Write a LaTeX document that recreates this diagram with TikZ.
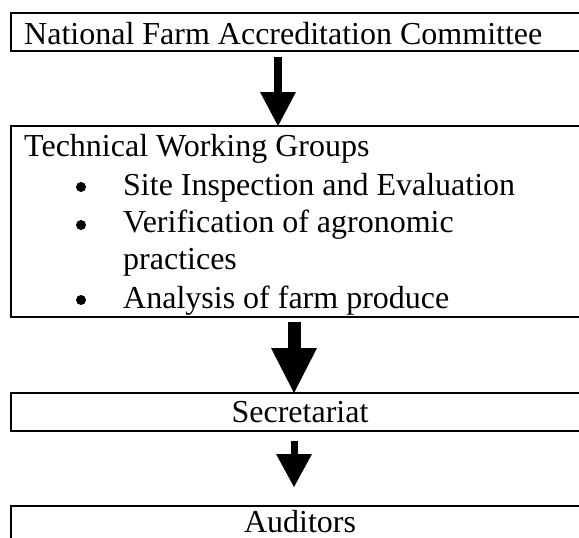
\documentclass[tikz,border=0pt]{standalone}
\usepackage{fontspec}
\setmainfont{Liberation Serif}
\usetikzlibrary{arrows.meta}

\tikzset{
  box/.style={draw, line width=2pt, minimum width=578pt, inner sep=0pt, outer sep=0pt, anchor=north west},
  txt/.style={inner sep=0pt, anchor=base west, font=\fontsize{32}{38}\selectfont},
  ctxt/.style={inner sep=0pt, anchor=base, font=\fontsize{32}{38}\selectfont},
  dot/.style={circle, fill, inner sep=0pt, minimum size=10pt},
  blockarrow/.style n args={3}{line width=#1pt, -{Triangle[length=#2pt, width=#3pt, line width=0pt]}}
}

\begin{document}
\begin{tikzpicture}[x=1pt, y=-1pt]

\useasboundingbox (0,0) rectangle (579,538);
\clip (0,0) rectangle (579,538);

%================ BOXES ==================
\node[box, minimum height=38pt]  (nfac) at (11,13)  {};
\node[box, minimum height=191pt] (twg)  at (11,126) {};
\node[box, minimum height=38pt]  (sec)  at (11,393) {};
\node[box, minimum height=38pt]  (aud)  at (11,506) {};

%================ TEXTS ==================
\node[txt] (nfac-txt) at (24,44) {National Farm Accreditation Committee};

\node[txt] (twg-txt) at (24,156) {Technical Working Groups};
% bulleted list
\node[dot] (b1) at (81,187) {};
\node[txt] (i1) at (123,195) {Site Inspection and Evaluation};
\node[dot] (b2) at (81,225) {};
\node[txt] (i2) at (123,232) {Verification of agronomic};
\node[txt] (i2b) at (123,269) {practices};
\node[dot] (b3) at (81,300) {};
\node[txt] (i3) at (123,308) {Analysis of farm produce};

\node[ctxt] (sec-txt) at (300,422) {Secretariat};
\node[ctxt] (aud-txt) at (300,532) {Auditors};

%================ ARROWS ==================
\draw[blockarrow={8}{34}{36}]  ([xshift=-22pt,yshift=-6pt]nfac.south) -- ([xshift=-22pt]twg.north);
\draw[blockarrow={13}{45}{46}] ([xshift=-6pt,yshift=-5pt]twg.south) -- ([xshift=-6pt]sec.north);
\draw[blockarrow={7}{33}{36}]  ([xshift=-6pt,yshift=-10pt]sec.south) -- ([xshift=-6pt,yshift=19pt]aud.north);

\end{tikzpicture}
\end{document}
